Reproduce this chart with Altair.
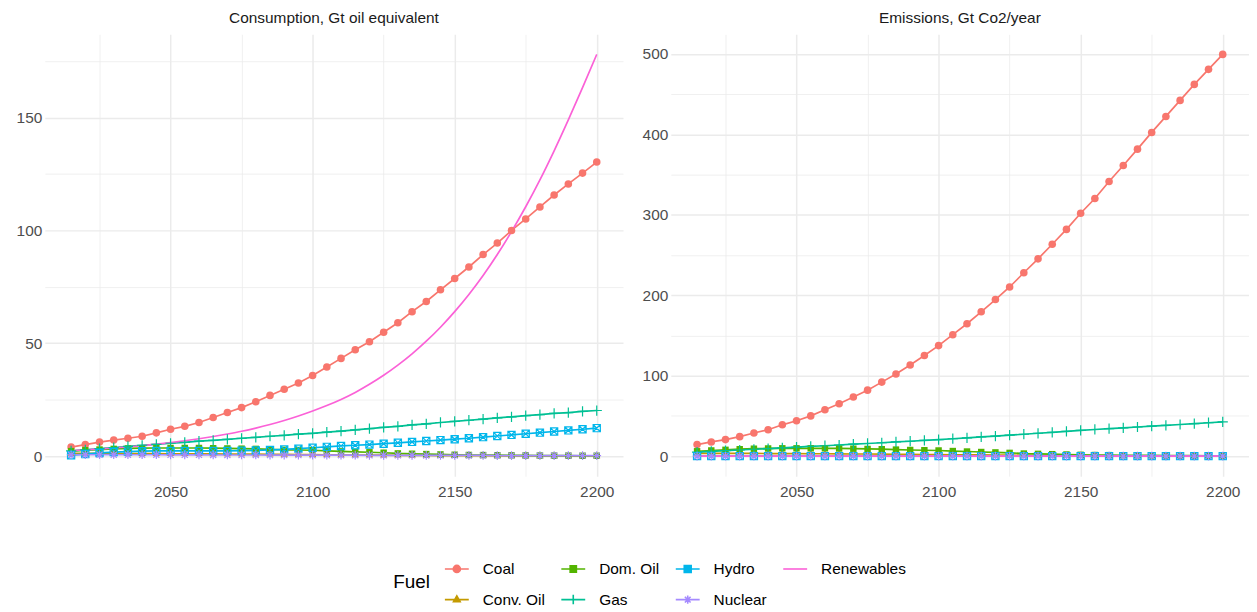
import altair as alt
import pandas as pd

years = list(range(2015, 2201, 5))
fuels = ["Coal", "Conv. Oil", "Dom. Oil", "Gas", "Hydro", "Nuclear", "Renewables"]
fuel_colors = ["#F8766D", "#C49A00", "#53B400", "#00C094", "#00B6EB", "#A58AFF", "#FB61D7"]
panels = ["Consumption, Gt oil equivalent", "Emissions, Gt Co2/year"]

# --- Consumption, Gt oil equivalent ---
coal_c = [4.0, 5.1, 6.2, 7.1, 7.9, 8.8, 10.3, 11.9, 13.2, 14.9, 17.1, 19.3, 21.5, 24.1, 26.9, 29.6,
          32.4, 35.7, 39.5, 43.3, 47.1, 50.7, 54.9, 59.1, 64.0, 68.5, 73.7, 78.7, 83.8, 89.3, 94.4,
          100.0, 105.1, 110.4, 115.7, 120.6, 125.4, 130.3]
convoil_c = [1.2, 1.2, 1.2, 1.15, 1.15, 1.1, 1.1, 1.05, 1.0, 1.0, 0.95, 0.9, 0.9, 0.85, 0.8, 0.75,
             0.7, 0.65, 0.6, 0.55, 0.5, 0.45, 0.4, 0.35, 0.3, 0.27, 0.24, 0.21, 0.18, 0.16, 0.14,
             0.12, 0.1, 0.09, 0.08, 0.07, 0.06, 0.05]
domoil_c = [2.2, 2.6, 2.9, 3.2, 3.4, 3.5, 3.6, 3.6, 3.6, 3.6, 3.5, 3.4, 3.3, 3.2, 3.0, 2.8, 2.7,
            2.6, 2.35, 2.1, 1.9, 1.7, 1.5, 1.2, 1.05, 0.9, 0.75, 0.6, 0.5, 0.45, 0.4, 0.35, 0.3,
            0.25, 0.2, 0.2, 0.15, 0.15]
gas_c = [2.3, 2.8, 3.3, 3.8, 4.3, 4.8, 5.2, 5.7, 6.1, 6.6, 7.0, 7.4, 7.9, 8.3, 8.8, 9.2, 9.7, 10.1,
         10.6, 11.1, 11.6, 12.2, 12.7, 13.2, 13.8, 14.3, 14.9, 15.4, 15.9, 16.4, 16.9, 17.4, 17.9,
         18.4, 18.9, 19.3, 19.8, 20.2]
hydro_c = [0.4, 0.9, 1.4, 1.8, 2.0, 2.2, 2.3, 2.3, 2.3, 2.3, 2.3, 2.3, 2.4, 2.5, 2.7, 3.0, 3.3,
           3.7, 4.1, 4.5, 4.8, 5.1, 5.5, 5.9, 6.3, 6.7, 7.1, 7.5, 7.9, 8.4, 8.9, 9.4, 9.9, 10.4,
           10.9, 11.4, 11.9, 12.4]
nuclear_c = [0.6, 0.6, 0.6, 0.6, 0.6, 0.6, 0.6, 0.55, 0.55, 0.55, 0.5, 0.5, 0.5, 0.5, 0.45, 0.45,
             0.45, 0.4, 0.4, 0.4, 0.4, 0.35, 0.35, 0.35, 0.35, 0.3, 0.3, 0.3, 0.3, 0.3, 0.25, 0.25,
             0.25, 0.25, 0.25, 0.2, 0.2, 0.2]
renew_c = [2.4, 2.8, 3.2, 3.6, 4.1, 4.6, 5.3, 6.0, 6.8, 7.7, 8.7, 9.8, 11.0, 12.4, 14.0, 15.8,
           17.8, 20.0, 22.4, 25.1, 28.2, 31.8, 35.8, 40.3, 45.3, 50.9, 57.1, 64.0, 71.6, 80.0,
           89.3, 99.5, 110.5, 122.4, 135.3, 149.0, 163.3, 178.0]

# --- Emissions, Gt Co2/year ---
coal_e = [14.3, 17.6, 20.5, 24.2, 28.7, 32.8, 38.9, 43.9, 50.0, 57.6, 65.0, 73.4, 82.0, 92.0,
          102.1, 113.2, 125.1, 137.4, 151.0, 164.6, 179.4, 194.7, 210.3, 228.0, 245.3, 263.4,
          281.9, 302.0, 320.3, 341.5, 361.4, 381.7, 402.5, 422.4, 442.3, 462.2, 480.9, 499.5]
convoil_e = [3.4, 3.4, 3.4, 3.3, 3.3, 3.2, 3.2, 3.0, 2.9, 2.9, 2.8, 2.6, 2.6, 2.5, 2.3, 2.2, 2.0,
             1.9, 1.7, 1.6, 1.5, 1.3, 1.2, 1.0, 0.9, 0.8, 0.7, 0.6, 0.5, 0.46, 0.4, 0.35, 0.3,
             0.26, 0.23, 0.2, 0.17, 0.15]
domoil_e = [6.0, 7.0, 7.8, 8.6, 9.2, 9.5, 9.7, 9.7, 9.7, 9.7, 9.5, 9.2, 8.9, 8.6, 8.1, 7.6, 7.3,
            7.0, 6.3, 5.7, 5.1, 4.6, 4.0, 3.2, 2.8, 2.4, 2.0, 1.6, 1.35, 1.2, 1.1, 0.95, 0.8, 0.7,
            0.55, 0.55, 0.4, 0.4]
gas_e = [4.9, 5.8, 6.7, 7.6, 8.5, 9.4, 10.2, 11.1, 12.0, 12.9, 13.8, 14.8, 15.7, 16.6, 17.6, 18.5,
         19.5, 20.5, 21.6, 22.7, 23.8, 24.9, 26.0, 27.2, 28.4, 29.6, 30.8, 32.0, 33.1, 34.2, 35.2,
         36.2, 37.3, 38.3, 39.3, 40.4, 41.5, 42.6]
hydro_e = [0.0] * 38
nuclear_e = [0.0] * 38
renew_e = [0.0] * 38

consumption = dict(zip(fuels, [coal_c, convoil_c, domoil_c, gas_c, hydro_c, nuclear_c, renew_c]))
emissions = dict(zip(fuels, [coal_e, convoil_e, domoil_e, gas_e, hydro_e, nuclear_e, renew_e]))

rows = []
for panel, table in ((panels[0], consumption), (panels[1], emissions)):
    for f in fuels:
        for yr, v in zip(years, table[f]):
            rows.append({"panel": panel, "Fuel": f, "year": yr, "value": v})
df = pd.DataFrame(rows)

# legend is filled row by row, so order the domain to mimic ggplot's column-wise fill
legend_order = ["Coal", "Dom. Oil", "Hydro", "Renewables", "Conv. Oil", "Gas", "Nuclear"]
color_of = dict(zip(fuels, fuel_colors))
color_scale = alt.Scale(domain=legend_order, range=[color_of[f] for f in legend_order])

# plot markers (unit paths)
markers = {
    "Coal": ("circle", True),
    "Conv. Oil": ("M0,-1.05L0.95,0.6L-0.95,0.6Z", True),
    "Dom. Oil": ("M-0.85,-0.85H0.85V0.85H-0.85Z", True),
    "Gas": ("M-1.35,0H1.35M0,-1.35V1.35", False),
    "Hydro": ("M-0.95,-0.95H0.95V0.95H-0.95ZM-0.95,-0.95L0.95,0.95M0.95,-0.95L-0.95,0.95", False),
    "Nuclear": ("M-1.15,0H1.15M0,-1.15V1.15M-0.8,-0.8L0.8,0.8M0.8,-0.8L-0.8,0.8", False),
}

# legend symbols: key line plus marker
legend_paths = {
    "Coal": "M-1,0H1M-0.3,0A0.3,0.3 0 1 0 0.3,0A0.3,0.3 0 1 0 -0.3,0Z",
    "Conv. Oil": "M-1,0H1M0,-0.32L0.28,0.18L-0.28,0.18Z",
    "Dom. Oil": "M-1,0H1M-0.26,-0.26H0.26V0.26H-0.26Z",
    "Gas": "M-1,0H1M0,-0.4V0.4",
    "Hydro": "M-1,0H1M-0.29,-0.29H0.29V0.29H-0.29ZM-0.29,-0.29L0.29,0.29M0.29,-0.29L-0.29,0.29",
    "Nuclear": "M-1,0H1M0,-0.34V0.34M-0.24,-0.24L0.24,0.24M0.24,-0.24L-0.24,0.24",
    "Renewables": "M-1,0H1",
}
shape_expr = "'M-1,0H1'"
for f in fuels[:-1]:
    shape_expr = f"datum.value === '{f}' ? '{legend_paths[f]}' : ({shape_expr})"
fill_expr = ("indexof(['Coal','Conv. Oil','Dom. Oil'], datum.value) >= 0 ? "
             "scale('color', datum.value) : 'transparent'")

legend = alt.Legend(
    title="Fuel", orient="none", legendX=350, legendY=524, direction="horizontal", columns=4,
    titleOrient="left", titleAnchor="middle", titleBaseline="middle", titleFontSize=19,
    titleFontWeight="normal", titleColor="#000000", titlePadding=14,
    labelFontSize=15.5, labelColor="#000000", labelOffset=13, columnPadding=12, rowPadding=9,
    symbolSize=576, symbolStrokeWidth=1.6, symbolOpacity=1, padding=0,
    symbolType=alt.ExprRef(expr=shape_expr),
    symbolFillColor=alt.ExprRef(expr=fill_expr),
)

GRID = "#EBEBEB"
xaxis = alt.Axis(values=[2025, 2050, 2075, 2100, 2125, 2150, 2175, 2200], format="d",
                 labelExpr="datum.value % 50 === 0 ? datum.label : ''",
                 gridColor=GRID,
                 gridWidth={"condition": {"test": "datum.value % 50 === 0", "value": 1.5}, "value": 0.75},
                 ticks=False, tickSize=0, domain=False, labelPadding=8, labelFlush=False,
                 labelFontSize=15.5, labelColor="#4D4D4D", labelOverlap=False)


def yaxis(vals, major):
    return alt.Axis(values=vals, labelExpr=f"datum.value % {major} === 0 ? datum.label : ''",
                    gridColor=GRID,
                    gridWidth={"condition": {"test": f"datum.value % {major} === 0", "value": 1.5},
                               "value": 0.75},
                    ticks=False, tickSize=0, domain=False, labelPadding=3, labelFlush=False,
                    labelFontSize=15.5, labelColor="#4D4D4D", labelOverlap=False)


def panel_chart(panel, ydomain, yvals, major, show_legend):
    base = alt.Chart(df).transform_filter(alt.datum.panel == panel)
    x = alt.X("year:Q", scale=alt.Scale(domain=[2005.75, 2209.25], nice=False, zero=False),
              axis=xaxis, title=None)
    y = alt.Y("value:Q", scale=alt.Scale(domain=ydomain, nice=False, zero=False),
              axis=yaxis(yvals, major), title=None)
    lines = base.transform_filter(alt.datum.Fuel != "Renewables").mark_line(strokeWidth=1.7).encode(
        x=x, y=y,
        color=alt.Color("Fuel:N", scale=color_scale, legend=legend if show_legend else None),
    )
    renew = base.transform_filter(alt.datum.Fuel == "Renewables").mark_line(
        strokeWidth=1.7, interpolate="monotone"
    ).encode(x=x, y=y, color=alt.Color("Fuel:N", scale=color_scale, legend=None))
    layers = [lines, renew]
    for f in fuels:
        if f not in markers:
            continue
        shape, filled = markers[f]
        pts = base.transform_filter(alt.datum.Fuel == f).mark_point(
            shape=shape, filled=filled, size=58, opacity=1, strokeWidth=1.2
        ).encode(x=x, y=y, color=alt.Color("Fuel:N", scale=color_scale, legend=None))
        layers.append(pts)
    return alt.layer(*layers).properties(
        width=581, height=444,
        title=alt.TitleParams(panel, fontSize=15.5, fontWeight="normal", color="#1A1A1A",
                              anchor="middle", offset=8),
    )


left = panel_chart(panels[0], [-8.9, 186.9], [0, 25, 50, 75, 100, 125, 150, 175], 50, True)
right = panel_chart(panels[1], [-24.975, 524.475],
                    [0, 50, 100, 150, 200, 250, 300, 350, 400, 450, 500], 100, False)

chart = alt.hconcat(left, right, spacing=19).properties(
    padding={"left": 8, "top": 1, "right": 0, "bottom": 0}
).configure(font="Liberation Sans").configure_view(stroke=None)

chart.save("out.html", embed_options={"renderer": "svg", "actions": False})
